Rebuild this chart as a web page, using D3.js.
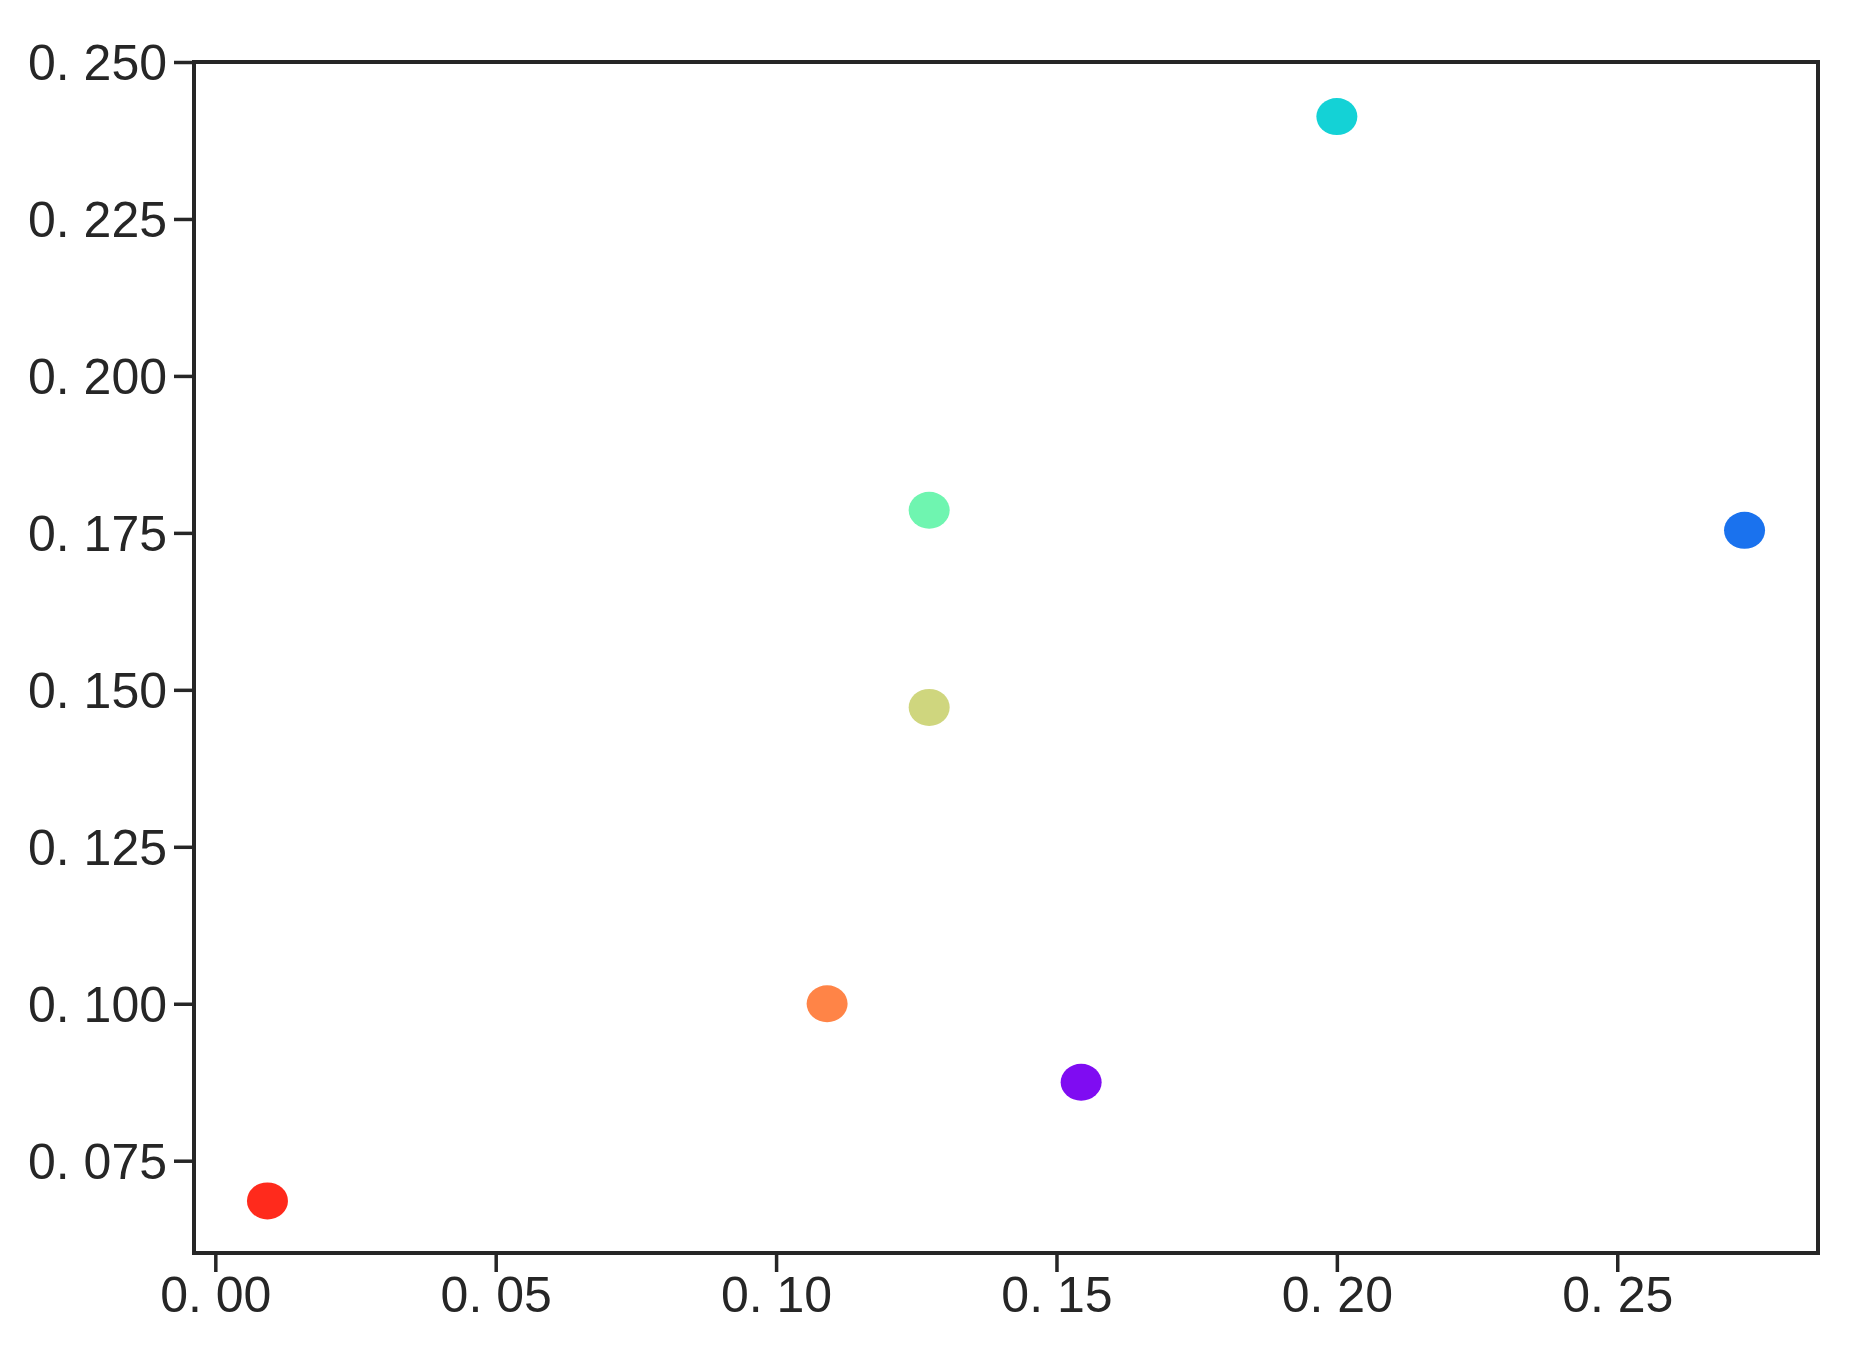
<!DOCTYPE html>
<html>
<head>
<meta charset="utf-8">
<script src="https://cdn.jsdelivr.net/npm/d3@7"></script>
<style>
  html, body { margin: 0; padding: 0; background: #fff; }
  svg { display: block; }
</style>
</head>
<body>
<svg id="chart" width="1863" height="1364"></svg>
<script>
// ---- data ----
const pointNames = ["red", "orange", "purple", "yellowgreen", "aquamarine", "cyan", "blue"];
const xValues = [0.0093, 0.1091, 0.1544, 0.1273, 0.1273, 0.2000, 0.2727];
const yValues = [0.0686, 0.1000, 0.0875, 0.1472, 0.1786, 0.2413, 0.1754];
const pointColors = ["#ff2a1c", "#ff8447", "#7f0cf2", "#cfd67e", "#6ff5b0", "#14d2d6", "#1a72ee"];
const xTicks = [0.00, 0.05, 0.10, 0.15, 0.20, 0.25];
const yTicks = [0.075, 0.100, 0.125, 0.150, 0.175, 0.200, 0.225, 0.250];
const xDomain = [-0.0038, 0.2858];
const yDomain = [0.0603, 0.250];

// ---- layout ----
const svg = d3.select("#chart");
const plotLeft = 194, plotRight = 1818, plotTop = 62, plotBottom = 1253;
const axisColor = "#262626";
const font = "'Liberation Sans', Arial, sans-serif";

const x = d3.scaleLinear().domain(xDomain).range([plotLeft, plotRight]);
const y = d3.scaleLinear().domain(yDomain).range([plotBottom, plotTop]);

const fmtX = d => d3.format(".2f")(d).replace(".", ". ");
const fmtY = d => d3.format(".3f")(d).replace(".", ". ");

// points
const data = xValues.map((v, i) => ({ name: pointNames[i], x: v, y: yValues[i], c: pointColors[i] }));
svg.append("g").selectAll("ellipse").data(data).join("ellipse")
  .attr("cx", d => x(d.x))
  .attr("cy", d => y(d.y))
  .attr("rx", 20.5)
  .attr("ry", 18.5)
  .attr("fill", d => d.c);

// axes
const xAxis = d3.axisBottom(x).tickValues(xTicks).tickFormat(fmtX).tickSize(19).tickSizeOuter(0).tickPadding(4);
const yAxis = d3.axisLeft(y).tickValues(yTicks).tickFormat(fmtY).tickSize(20).tickSizeOuter(0).tickPadding(7);

const gx = svg.append("g").attr("transform", `translate(0,${plotBottom})`).call(xAxis);
const gy = svg.append("g").attr("transform", `translate(${plotLeft},0)`).call(yAxis);

[gx, gy].forEach(g => {
  g.select(".domain").remove();
  g.selectAll(".tick line").attr("stroke", axisColor).attr("stroke-width", 3.5);
  g.selectAll(".tick text")
    .attr("fill", axisColor)
    .style("font-family", font)
    .style("font-size", "50px");
});
gx.selectAll(".tick text").attr("dy", "0.71em");
gy.selectAll(".tick text").attr("dy", "0.35em");

// frame
svg.append("rect")
  .attr("x", plotLeft).attr("y", plotTop)
  .attr("width", plotRight - plotLeft).attr("height", plotBottom - plotTop)
  .attr("fill", "none")
  .attr("stroke", axisColor)
  .attr("stroke-width", 4);
</script>
</body>
</html>
